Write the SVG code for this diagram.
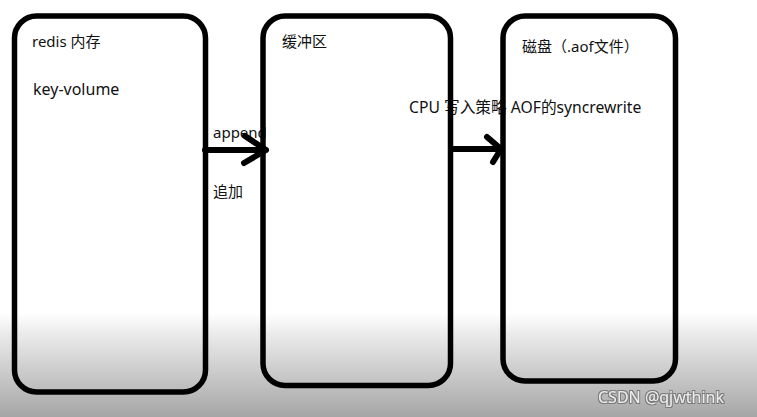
<svg xmlns="http://www.w3.org/2000/svg" width="757" height="417" viewBox="0 0 757 417">
<defs>
<linearGradient id="bg" x1="0" y1="0" x2="0" y2="1">
<stop offset="0" stop-color="#ffffff"/>
<stop offset="0.75" stop-color="#ffffff"/>
<stop offset="0.80" stop-color="#ebebeb"/>
<stop offset="1" stop-color="#a6a6a6"/>
</linearGradient>
<filter id="sh" x="-5%" y="-30%" width="110%" height="160%">
<feMorphology in="SourceAlpha" operator="dilate" radius="0.6" result="d"/>
<feFlood flood-color="#7a7a7a"/>
<feComposite in2="d" operator="in" result="o"/>
<feMerge><feMergeNode in="o"/><feMergeNode in="SourceGraphic"/></feMerge>
</filter>
</defs>
<style>
text{font-family:"Noto Sans","Noto Sans CJK SC",sans-serif;font-size:15px;fill:#111}
.box{fill:none;stroke:#000;stroke-width:5.5}
.ln{fill:none;stroke:#000;stroke-width:6;stroke-linecap:round;stroke-linejoin:round}
.wm{fill:#ececec;font-size:16px}
</style>
<rect width="757" height="417" fill="url(#bg)"/>
<g id="labels">
<text x="213" y="138">append</text>
<text x="213" y="197">追加</text>
<text x="409" y="113" style="font-size:15.7px">CPU 写入策略 AOF的syncrewrite</text>
</g>
<g id="redis">
<rect class="box" x="14.5" y="16" width="191" height="376" rx="22"/>
<text x="32" y="47">redis 内存</text>
<text x="33" y="95" style="font-size:16px">key-volume</text>
</g>
<g id="buffer">
<rect class="box" x="263" y="16" width="187.5" height="369.5" rx="22"/>
<text x="282" y="47">缓冲区</text>
</g>
<g id="disk">
<rect class="box" x="503" y="16" width="172.5" height="365" rx="22"/>
<text x="522" y="52">磁盘（.aof文件）</text>
</g>
<g id="connectors">
<path class="ln" d="M205 150 H266 M245 136 L266 150 L244 163"/>
<path class="ln" d="M453 149 H501 M487 137 L501 149 L493 162"/>
</g>
<text class="wm" x="598" y="403" filter="url(#sh)">CSDN @qjwthink</text>
</svg>
